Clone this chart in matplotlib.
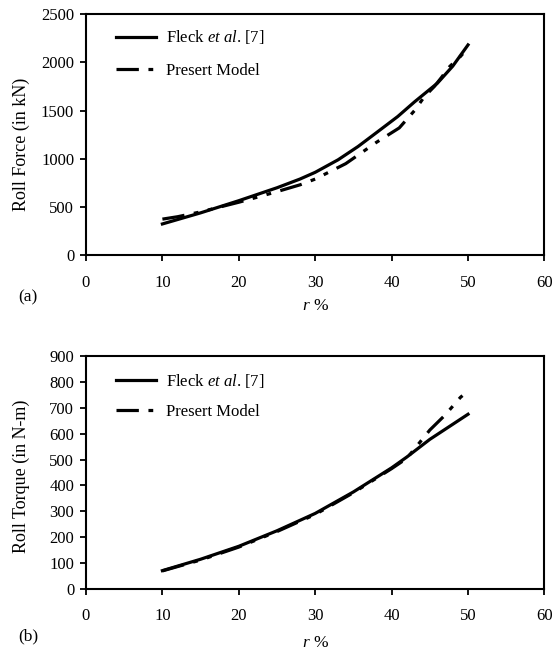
import numpy as np
import matplotlib
matplotlib.use("Agg")
import matplotlib.pyplot as plt

plt.rcParams["font.family"] = ["Liberation Serif", "DejaVu Serif"]
plt.rcParams["mathtext.fontset"] = "custom"
plt.rcParams["mathtext.rm"] = "Liberation Serif"
plt.rcParams["mathtext.it"] = "Liberation Serif:italic"

# roll force (kN) vs reduction r %
r_fleck_f = [10, 15, 20, 25, 28, 30, 33, 35.6, 38, 40.8, 43, 46, 48, 50]
f_fleck = [325, 440, 566, 700, 790, 860, 990, 1127, 1270, 1438, 1590, 1784, 1960, 2180]
r_model_f = [10, 12, 15, 20, 23, 25, 28, 30, 34, 38, 41, 43, 44.3, 45.6, 46.5, 47.6, 49, 50]
f_model = [375, 400, 450, 550, 615, 660, 730, 790, 950, 1170, 1320, 1500, 1645, 1750, 1840, 1956, 2060, 2150]

# roll torque (N-m) vs reduction r %
r_fleck_t = [10, 15, 20, 25, 30, 35, 40, 42, 45, 50]
t_fleck = [71, 115, 165, 225, 292, 375, 468, 510, 578, 675]
r_model_t = [10, 15, 20, 25, 30, 35, 40, 42, 45, 47, 49, 50]
t_model = [70, 112, 162, 222, 288, 372, 465, 505, 614, 672, 740, 765]

DASH = (0, (7, 3, 1.5, 3, 1.5, 3))
FS = 12
LEG_FS = 12


def style(ax, ymax, ystep, ylabel, tag, ylab_y, leg_top, leg_space, tag_y, xpad):
    ax.set_xlim(0, 60)
    ax.set_ylim(0, ymax)
    ax.set_xticks(range(0, 61, 10))
    ax.set_yticks(np.arange(0, ymax + 1, ystep))
    ax.tick_params(direction="out", length=4.5, width=1.3, labelsize=FS, top=False, right=False)
    ax.tick_params(axis="x", pad=9.5)
    ax.tick_params(axis="y", pad=4)
    for s in ax.spines.values():
        s.set_linewidth(1.5)
    ax.set_ylabel(ylabel, fontsize=13)
    ax.yaxis.set_label_coords(-0.122, ylab_y)
    ax.set_xlabel("$\\it{r}$ %", fontsize=12.5, labelpad=xpad)
    ax.text(-0.148, tag_y, tag, transform=ax.transAxes, fontsize=12.5)
    ax.legend(loc="upper left", bbox_to_anchor=(0.066, leg_top), frameon=False, fontsize=LEG_FS,
              borderpad=0, borderaxespad=0, handlelength=2.4, handletextpad=0.6,
              labelspacing=leg_space)


fig = plt.figure(figsize=(5.53, 6.52), dpi=100)
ax1 = fig.add_axes([0.1555, 0.6084, 0.829, 0.3701])
ax2 = fig.add_axes([0.1555, 0.0966, 0.829, 0.3574])

ax1.plot(r_fleck_f, f_fleck, "-", color="black", lw=2.3, label="Fleck $\\it{et\\ al}$. [7]")
ax1.plot(r_model_f, f_model, color="black", lw=2.3, linestyle=DASH, label="Presert Model")
style(ax1, 2500, 500, "Roll Force (in kN)", "(a)", 0.461, 0.94, 1.0, -0.19, 5)

ax2.plot(r_fleck_t, t_fleck, "-", color="black", lw=2.3, label="Fleck $\\it{et\\ al}$. [7]")
ax2.plot(r_model_t, t_model, color="black", lw=2.3, linestyle=DASH, label="Presert Model")
style(ax2, 900, 100, "Roll Torque (in N-m)", "(b)", 0.485, 0.93, 0.8, -0.22, 7.5)

fig.savefig("out.png", dpi=100)
